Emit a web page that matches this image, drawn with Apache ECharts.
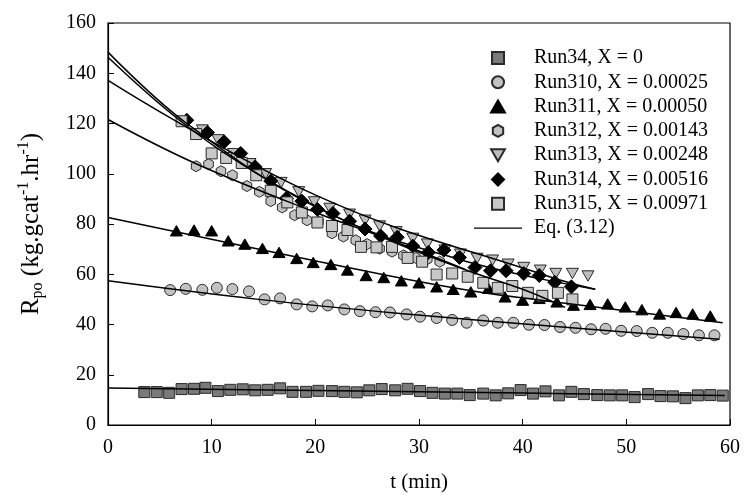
<!DOCTYPE html>
<html>
<head>
<meta charset="utf-8">
<script src="https://cdn.jsdelivr.net/npm/echarts@6/dist/echarts.min.js"></script>
<style>
  html, body { margin: 0; padding: 0; background: #fff; }
  #chart { width: 744px; height: 502px; }
</style>
</head>
<body>
<div id="chart"></div>
<script>
// Measured polymerization rate vs time, one run per catalyst ratio X
const run34T = [3.5,4.7,5.9,7.1,8.3,9.4,10.6,11.8,13.0,14.2,15.4,16.6,17.8,19.1,20.3,21.6,22.8,24.0,25.2,26.4,27.7,28.9,30.1,31.3,32.5,33.7,34.9,36.2,37.4,38.6,39.8,41.0,42.2,43.5,44.7,45.9,47.2,48.4,49.6,50.8,52.1,53.3,54.5,55.7,56.9,58.1,59.3];
const run34R = [13.1,13.1,12.8,14.3,14.4,14.8,13.5,14.0,14.2,13.8,14.0,14.6,13.2,13.2,13.6,13.5,13.2,13.0,13.8,14.3,13.8,14.4,13.5,12.8,12.5,12.5,11.9,12.5,11.8,12.6,13.9,12.5,13.4,11.8,13.2,12.3,11.9,11.8,11.8,11.1,12.3,11.5,11.4,10.7,11.8,11.9,11.7];

const run310T = [6.0,7.5,9.1,10.5,12.0,13.6,15.1,16.6,18.2,19.7,21.2,22.8,24.3,25.8,27.2,28.8,30.1,31.7,33.2,34.6,36.2,37.6,39.1,40.6,42.1,43.6,45.1,46.6,48.0,49.5,51.0,52.5,54.0,55.5,57.0,58.5];
const run310R = [53.7,54.2,53.8,54.6,54.1,53.2,50.0,50.4,48.0,47.2,47.6,46.0,45.3,44.9,44.8,44.0,43.1,42.6,41.8,40.7,41.6,40.7,40.7,39.9,39.8,39.0,38.7,38.1,38.3,37.5,37.4,36.7,36.7,36.2,35.7,35.7];

const run311T = [6.6,8.3,10.0,11.6,13.2,14.9,16.5,18.2,19.8,21.5,23.1,24.9,26.6,28.3,30.0,31.7,33.3,35.0,36.7,38.3,40.0,41.6,43.3,44.9,46.5,48.2,49.9,51.5,53.2,54.8,56.4,58.1];
const run311R = [77.3,77.6,77.3,73.3,72.0,70.3,68.7,66.3,64.7,63.9,61.7,59.5,58.7,57.4,56.6,55.0,54.0,53.0,54.4,51.0,49.7,50.4,49.0,47.7,48.0,48.2,47.0,45.9,44.2,44.8,44.2,43.4];

const run312T = [8.5,9.7,10.9,12.0,13.4,14.6,15.7,16.8,18.0,19.2,20.3,21.6,22.7,23.9,25.0,26.2,27.4,28.5,29.7,30.8,32.0];
const run312R = [103.0,103.8,101.0,99.4,95.1,92.8,89.1,86.6,83.5,81.5,80.9,76.3,75.0,73.5,72.0,70.2,69.0,67.5,66.5,66.0,65.0];

const run313T = [9.1,10.6,12.1,13.7,15.2,16.7,18.4,19.9,21.4,23.3,24.8,26.2,27.8,29.4,30.8,32.5,34.0,35.6,37.1,38.6,40.1,41.7,43.2,44.8,46.3];
const run313R = [117.4,113.5,108.0,104.0,100.0,96.5,92.8,88.8,86.2,83.9,81.5,79.2,76.9,74.3,72.0,69.6,68.0,66.3,65.6,64.0,62.7,61.6,60.3,60.3,59.3];

const run314T = [7.6,9.6,11.2,12.8,14.2,15.7,17.2,18.7,20.2,21.7,23.3,24.8,26.3,27.9,29.4,30.9,32.4,33.9,35.4,36.9,38.4,40.1,41.6,43.1,44.7];
const run314R = [121.3,116.4,112.7,108.1,102.7,97.1,90.2,89.1,85.8,84.2,81.1,78.0,75.2,74.7,71.2,68.7,69.6,66.7,62.7,61.4,61.4,60.3,59.5,56.8,55.0];

const run315T = [7.1,8.5,10.0,11.4,12.9,14.3,15.7,17.3,18.7,20.2,21.6,23.1,24.4,25.9,27.4,28.9,30.3,31.7,33.2,34.7,36.2,37.6,39.0,40.5,41.9,43.4,44.8];
const run315R = [120.9,115.8,108.1,106.3,104.3,99.4,93.2,88.6,84.6,80.6,79.2,77.6,70.9,70.7,70.9,66.5,65.0,59.9,60.3,59.0,56.6,54.6,55.3,52.6,51.4,52.6,50.0];

// Model curves, Eq. (3.12), read as (t, R) pairs
const fit34T = [0, 20, 40, 59.5];
const fit34R = [14.7, 13.7, 12.7, 11.7];
const fit310T = [0, 14.5, 28.2, 45, 59];
const fit310R = [57.4, 50.0, 44.4, 38.6, 34.1];
const fit311T = [0, 20.4, 34.6, 47.4, 59.3];
const fit311R = [82.6, 65.0, 53.7, 46.8, 40.7];
const fit312T = [0, 8.5, 20.4, 27, 34.4];
const fit312R = [121.6, 104, 84, 74, 62];
const fit313T = [0, 20.4, 42.6, 47];
const fit313R = [137.2, 90.8, 59, 54];
const fit314T = [0, 7.6, 20.4, 33.8, 47];
const fit314R = [148.4, 120, 86, 66, 54];
const fit315T = [0, 7, 14, 21, 28, 35, 40, 44.1];
const fit315R = [146.4, 121, 101, 85, 72, 61, 54, 46.8];

const xTicks = [0, 10, 20, 30, 40, 50, 60];
const yTicks = [0, 20, 40, 60, 80, 100, 120, 140, 160];

const runNames = ['Run34, X = 0', 'Run310, X = 0.00025', 'Run311, X = 0.00050', 'Run312, X = 0.00143',
  'Run313, X = 0.00248', 'Run314, X = 0.00516', 'Run315, X = 0.00971'];
const fitName = 'Eq. (3.12)';

const pair = (ts, rs) => ts.map((t, i) => [t, rs[i]]);

// Marker shapes as paths so they keep their aspect ratio in the legend too
const square = 'path://M0,0 L10,0 L10,10 L0,10 Z';
const upTriangle = 'path://M5,0 L10,8.66 L0,8.66 Z';
const downTriangle = 'path://M0,0 L10,0 L5,8.66 Z';
const diamond = 'path://M5,0 L10,5 L5,10 L0,5 Z';
const hexagon = 'path://M5,0 L9.33,2.5 L9.33,7.5 L5,10 L0.67,7.5 L0.67,2.5 Z';
const legendLine = 'path://M0,0 L48,0 L48,1.4 L0,1.4 Z';

const runs = [
  { t: run34T, r: run34R, symbol: square, size: 11, fill: '#7a7a7a', stroke: '#2a2a2a' },
  { t: run310T, r: run310R, symbol: 'circle', size: 11, fill: '#c2c2c2', stroke: '#2a2a2a' },
  { t: run311T, r: run311R, symbol: upTriangle, size: 12, fill: '#000', stroke: '#000' },
  { t: run312T, r: run312R, symbol: hexagon, size: 11, fill: '#c2c2c2', stroke: '#2a2a2a' },
  { t: run313T, r: run313R, symbol: downTriangle, size: 12, fill: '#bdbdbd', stroke: '#2a2a2a' },
  { t: run314T, r: run314R, symbol: diamond, size: 14, fill: '#000', stroke: '#000' },
  { t: run315T, r: run315R, symbol: square, size: 11, fill: '#c8c8c8', stroke: '#2a2a2a' }
];
const fits = [
  [fit34T, fit34R], [fit310T, fit310R], [fit311T, fit311R], [fit312T, fit312R],
  [fit313T, fit313R], [fit314T, fit314R], [fit315T, fit315R]
];

const serif = 'Liberation Serif, Times New Roman, serif';

const series = runs.map((s, i) => ({
  name: runNames[i],
  type: 'scatter',
  symbol: s.symbol,
  symbolSize: s.size,
  symbolKeepAspect: true,
  itemStyle: { color: s.fill, borderColor: s.stroke, borderWidth: 1, opacity: 1 },
  data: pair(s.t, s.r),
  z: 2 + i
})).concat(fits.map(f => ({
  name: fitName,
  type: 'line',
  smooth: 0.4,
  symbol: 'none',
  showSymbol: false,
  lineStyle: { color: '#000', width: 1.5 },
  itemStyle: { color: '#000' },
  data: pair(f[0], f[1]),
  z: 20
})));

const legendData = runNames.map((n, i) => ({ name: n, icon: runs[i].symbol }))
  .concat([{ name: fitName, icon: legendLine, itemStyle: { color: '#000', borderWidth: 0 } }]);

const chart = echarts.init(document.getElementById('chart'), null, { renderer: 'canvas' });
chart.setOption({
  animation: false,
  backgroundColor: '#fff',
  textStyle: { fontFamily: serif, color: '#000' },
  grid: { left: 108, right: 14, top: 23, bottom: 77, show: true, borderColor: '#000', borderWidth: 1.2, backgroundColor: 'transparent' },
  legend: {
    orient: 'vertical',
    left: 469,
    top: 43,
    itemWidth: 48,
    itemHeight: 12,
    itemGap: 4.3,
    symbolKeepAspect: true,
    data: legendData,
    textStyle: { fontFamily: serif, fontSize: 20, color: '#000', lineHeight: 20, padding: [0, 0, 0, 7] },
    inactiveColor: '#000'
  },
  xAxis: {
    type: 'value',
    min: xTicks[0],
    max: xTicks[xTicks.length - 1],
    interval: 10,
    name: 't (min)',
    nameLocation: 'middle',
    nameGap: 47,
    nameTextStyle: { fontFamily: serif, fontSize: 21, color: '#000' },
    axisLine: { show: true, onZero: false, lineStyle: { color: '#000', width: 1.2 } },
    axisTick: { show: true, inside: true, length: 6, lineStyle: { color: '#000', width: 1 } },
    axisLabel: { fontFamily: serif, fontSize: 20, color: '#000', margin: 13 },
    splitLine: { show: false }
  },
  yAxis: {
    type: 'value',
    min: yTicks[0],
    max: yTicks[yTicks.length - 1],
    interval: 20,
    name: '{n|R}{sub|po}{n| (kg.gcat}{sup|-1}{n|.hr}{sup|-1}{n|)}',
    nameLocation: 'middle',
    nameGap: 62,
    nameRotate: 90,
    nameTextStyle: {
      fontFamily: serif, fontSize: 25, color: '#000',
      rich: {
        n: { fontFamily: serif, fontSize: 25, lineHeight: 30, color: '#000' },
        sub: { fontFamily: serif, fontSize: 16, lineHeight: 16, verticalAlign: 'bottom', color: '#000' },
        sup: { fontFamily: serif, fontSize: 16, lineHeight: 16, verticalAlign: 'top', color: '#000' }
      }
    },
    axisLine: { show: true, onZero: false, lineStyle: { color: '#000', width: 1.2 } },
    axisTick: { show: true, inside: true, length: 6, lineStyle: { color: '#000', width: 1 } },
    axisLabel: { fontFamily: serif, fontSize: 20, color: '#000', margin: 12 },
    splitLine: { show: false }
  },
  series: series
});
</script>
</body>
</html>
